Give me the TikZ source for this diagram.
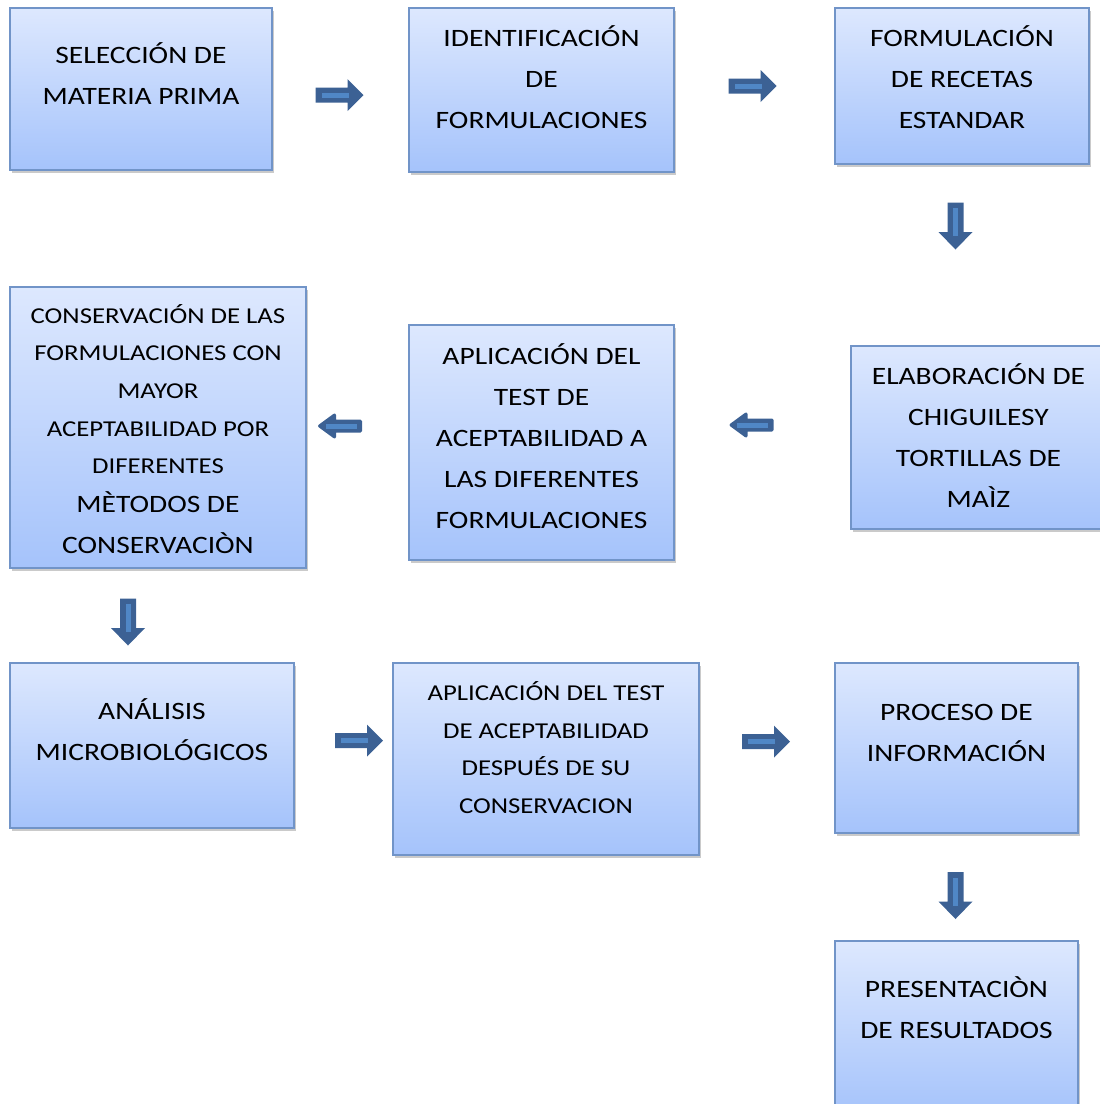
\documentclass[tikz,border=0pt]{standalone}
\usepackage{fontspec}
\setmainfont{Carlito}[FakeStretch=1.18]
\usetikzlibrary{shadows}
\definecolor{boxtop}{HTML}{DDE8FE}
\definecolor{boxbot}{HTML}{A5C3FB}
\definecolor{boxline}{HTML}{7194C8}
\definecolor{arrdark}{HTML}{3C6194}
\definecolor{arrlight}{HTML}{5087C6}
\tikzset{
  box/.style={rectangle, draw=boxline, line width=1.5bp, top color=boxtop, bottom color=boxbot,
    drop shadow={shadow xshift=2bp, shadow yshift=-3bp, opacity=0.35, fill=black!60}, inner sep=0pt},
  bigtxt/.style={align=center, font=\fontsize{25bp}{41bp}\selectfont, inner sep=0pt},
  smalltxt/.style={align=center, font=\fontsize{22.7bp}{37.6bp}\selectfont, inner sep=0pt},
  pics/rarrow/.style={code={
    \fill[arrdark] (-24,-7.5) -- (8,-7.5) -- (8,-16) -- (24,0) -- (8,16) -- (8,7.5) -- (-24,7.5) -- cycle;
    \fill[arrlight] (-18,-2.5) rectangle (9,2.5);
  }},
  pics/larrow/.style={code={
    \filldraw[arrdark, line width=3bp, line join=round] (21,-5) -- (-5,-5) -- (-5,-11) -- (-20,0) -- (-5,11) -- (-5,5) -- (21,5) -- cycle;
    \fill[arrlight] (-14,-2.5) rectangle (17,2.5);
  }},
  pics/darrow/.style={code={
    \fill[arrdark] (-8,-23.5) -- (-8,6) -- (-17,6) -- (0,23.5) -- (17,6) -- (8,6) -- (8,-23.5) -- cycle;
    \fill[arrlight] (-2.5,-18) rectangle (2.5,10);
  }},
}
\begin{document}
\begin{tikzpicture}[x=1bp, y=-1bp]
\useasboundingbox (0,0) rectangle (1100,1104);
% boxes
\node[box, minimum width=262bp, minimum height=162bp] (b1) at (141,89) {};
\node[box, minimum width=265bp, minimum height=164bp] (b2) at (541.5,90) {};
\node[box, minimum width=254bp, minimum height=156bp] (b3) at (962,86) {};
\node[box, minimum width=255bp, minimum height=183bp] (b4) at (978.5,437.5) {};
\node[box, minimum width=265bp, minimum height=235bp] (b5) at (541.5,442.5) {};
\node[box, minimum width=296bp, minimum height=281bp] (b6) at (158,427.5) {};
\node[box, minimum width=284bp, minimum height=165bp] (b7) at (152,745.5) {};
\node[box, minimum width=306bp, minimum height=192bp] (b8) at (546,759) {};
\node[box, minimum width=243bp, minimum height=170bp] (b9) at (956.5,748) {};
\node[box, minimum width=243bp, minimum height=175bp] (b10) at (956.5,1028.5) {};
% texts
\node[bigtxt] (t1) at (141,73.5) {SELECCIÓN DE\\MATERIA PRIMA};
\node[bigtxt] (t2) at (541.5,77.5) {IDENTIFICACIÓN\\DE\\FORMULACIONES};
\node[bigtxt] (t3) at (962,77.5) {FORMULACIÓN\\DE RECETAS\\ESTANDAR};
\node[bigtxt] (t4) at (978.5,436) {ELABORACIÓN DE\\CHIGUILESY\\TORTILLAS DE\\MAÌZ};
\node[bigtxt] (t5) at (541.5,436) {APLICACIÓN DEL\\TEST DE\\ACEPTABILIDAD A\\LAS DIFERENTES\\FORMULACIONES};
\node[smalltxt] (t6a) at (158,389) {CONSERVACIÓN DE LAS\\FORMULACIONES CON\\MAYOR\\ACEPTABILIDAD POR\\DIFERENTES};
\node[bigtxt] (t6b) at (158,523) {MÈTODOS DE\\CONSERVACIÒN};
\node[bigtxt] (t7) at (152,730) {ANÁLISIS\\MICROBIOLÓGICOS};
\node[smalltxt] (t8) at (546,747.5) {APLICACIÓN DEL TEST\\DE ACEPTABILIDAD\\DESPUÉS DE SU\\CONSERVACION};
\node[bigtxt] (t9) at (956.5,733) {PROCESO DE\\INFORMACIÓN};
\node[bigtxt] (t10) at (956.5,1008) {PRESENTACIÒN\\DE RESULTADOS};
% arrows
\pic (a12) at (339.5,95) {rarrow};
\pic (a23) at (752.5,86) {rarrow};
\pic (a34) at (955.5,226) {darrow};
\pic (a45) at (751,425) {larrow};
\pic (a56) at (339.5,426) {larrow};
\pic (a67) at (128,622) {darrow};
\pic (a78) at (359,740.5) {rarrow};
\pic (a89) at (766,741.5) {rarrow};
\pic (a910) at (955.5,895.5) {darrow};
\end{tikzpicture}
\end{document}
